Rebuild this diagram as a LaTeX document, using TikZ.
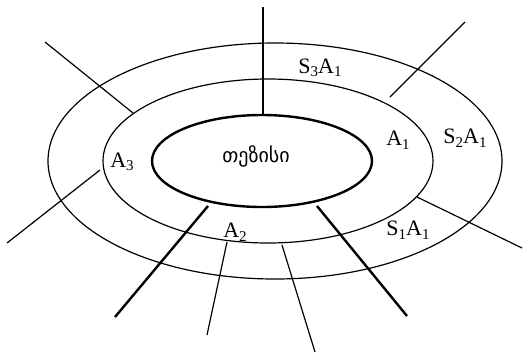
\documentclass[tikz,border=0pt]{standalone}
\usepackage{fontspec}
\setmainfont{Liberation Serif}
\newfontfamily\geofont[Script=Georgian]{DejaVu Sans}
\newcommand\subidx[1]{\raisebox{-0.35ex}{\fontsize{15}{15}\selectfont #1}}
\begin{document}
\begin{tikzpicture}[x=1pt,y=-1pt,
  thinline/.style={line width=1.2pt},
  thickline/.style={line width=2.4pt},
  lbl/.style={font=\fontsize{22}{24}\selectfont, inner sep=0pt}]
\useasboundingbox (0,0) rectangle (525,357);
% ellipses
\draw[thickline] (262,161) ellipse [x radius=110, y radius=46];
\draw[thinline] (268,161) ellipse [x radius=165, y radius=82];
\draw[thinline] (275,161) ellipse [x radius=227, y radius=118];
% radial lines
\coordinate (t1) at (263,7);   \coordinate (t2) at (263,115);
\draw[thickline] (t1) -- (t2);
\coordinate (ul1) at (45,42);  \coordinate (ul2) at (133,113);
\draw[thinline] (ul1) -- (ul2);
\coordinate (ur1) at (465,22); \coordinate (ur2) at (390,97);
\draw[thinline] (ur1) -- (ur2);
\coordinate (ll1) at (100,170); \coordinate (ll2) at (7,243);
\draw[thinline] (ll1) -- (ll2);
\coordinate (lr1) at (417,197); \coordinate (lr2) at (522,248);
\draw[thinline] (lr1) -- (lr2);
\coordinate (bl1) at (208,206); \coordinate (bl2) at (115,317);
\draw[thickline] (bl1) -- (bl2);
\coordinate (br1) at (317,206); \coordinate (br2) at (407,316);
\draw[thickline] (br1) -- (br2);
\coordinate (b1a) at (227,242); \coordinate (b1b) at (207,335);
\draw[thinline] (b1a) -- (b1b);
\coordinate (b2a) at (282,245); \coordinate (b2b) at (315,352);
\draw[thinline] (b2a) -- (b2b);
% labels
\node[lbl] (s3a1) at (320,68) {S\subidx{3}A\subidx{1}};
\node[lbl] (a1) at (398,140) {A\subidx{1}};
\node[lbl] (s2a1) at (465,138) {S\subidx{2}A\subidx{1}};
\node[lbl] (a3) at (122,162) {A\subidx{3}};
\node[lbl] (a2) at (235,232) {A\subidx{2}};
\node[lbl] (s1a1) at (408,230) {S\subidx{1}A\subidx{1}};
\node[inner sep=0pt, font=\geofont\fontsize{20}{22}\selectfont] (thesis) at (256,156) {თეზისი};
\end{tikzpicture}
\end{document}
